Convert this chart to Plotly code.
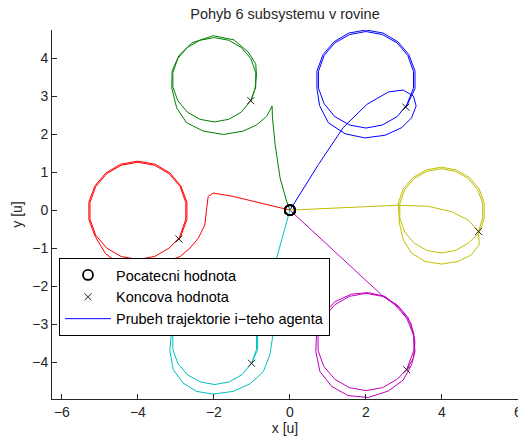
import plotly.graph_objects as go

# Trajectories of the six agents in the plane (x, y in [u]); every agent starts at the origin,
# heads out towards its place on the formation and then settles on a circular orbit.
x_blue = [0, 0.75, 1.40, 2.02, 2.59, 2.98, 3.25, 3.32, 3.20, 2.94, 2.50, 1.97, 1.45, 1.01, 0.78,
          0.71, 0.71, 0.87, 1.16, 1.55, 2.00, 2.45, 2.84, 3.13, 3.29, 3.29, 3.10,
          2.82, 2.43, 2.00, 1.57, 1.18, 0.90, 0.75, 0.75, 0.90, 1.18, 1.57, 2.00, 2.43, 2.82, 3.10,
          3.25, 3.25, 3.05]
y_blue = [0, 1.20, 2.17, 2.78, 3.11, 3.16, 3.00, 2.74, 2.43, 2.17, 1.97, 1.90, 2.01, 2.30, 2.75,
          3.20, 3.66, 4.09, 4.43, 4.66, 4.74, 4.66, 4.43, 4.09, 3.66, 3.20, 2.80,
          2.46, 2.24, 2.16, 2.24, 2.46, 2.80, 3.21, 3.65, 4.07, 4.40, 4.62, 4.70, 4.62, 4.40, 4.07,
          3.65, 3.21, 2.71]

x_green = [0, -0.09, -0.26, -0.39, -0.46, -0.47, -0.61, -0.88, -1.23, -1.75, -2.28, -2.72, -2.98, -3.11,
           -3.10, -2.92, -2.58, -2.02, -1.47, -1.10, -0.90, -0.88, -0.92, -1.03,
           -1.28, -1.61, -1.99, -2.37, -2.70, -2.95, -3.08, -3.08, -2.95, -2.70, -2.37, -1.99, -1.61,
           -1.28, -1.03, -0.90, -0.90, -1.03]
y_green = [0, 0.24, 0.85, 1.73, 2.43, 2.74, 2.47, 2.24, 2.08, 1.99, 2.08, 2.30, 2.69, 3.22,
           3.66, 4.07, 4.40, 4.59, 4.48, 4.16, 3.85, 3.55, 3.18, 2.88,
           2.58, 2.39, 2.32, 2.39, 2.58, 2.88, 3.24, 3.62, 3.99, 4.28, 4.47, 4.54, 4.47,
           4.28, 3.99, 3.62, 3.24, 2.88]

x_red = [0, -0.97, -1.49, -2.02, -2.15, -2.19, -2.24, -2.41, -2.63, -2.89, -3.40, -4.00, -4.50, -4.85,
         -5.13, -5.29, -5.29, -5.13, -4.84, -4.45, -4.00, -3.55, -3.16, -2.87, -2.71, -2.71, -2.87,
         -3.18, -3.56, -4.00, -4.44, -4.82, -5.11, -5.26, -5.26, -5.11, -4.82, -4.44, -4.00, -3.56,
         -3.18, -2.89, -2.74, -2.74, -2.92]
y_red = [0, 0.23, 0.36, 0.45, 0.36, 0.05, -0.39, -0.74, -1.00, -1.22, -1.42, -1.48, -1.40, -1.15,
         -0.68, -0.25, 0.21, 0.64, 0.98, 1.21, 1.29, 1.21, 0.98, 0.64, 0.21, -0.25, -0.68,
         -1.00, -1.22, -1.30, -1.22, -1.00, -0.66, -0.24, 0.20, 0.62, 0.96, 1.18, 1.26, 1.18,
         0.96, 0.62, 0.20, -0.24, -0.76]

x_cyan = [0, -0.35, -0.44, -0.48, -0.46, -0.53, -0.70, -1.05, -1.49, -2.02, -2.46, -2.81, -3.07, -3.16,
          -3.12, -2.98, -2.72, -2.37, -1.98, -1.59, -1.24, -0.98, -0.85, -0.85, -1.01,
          -1.26, -1.60, -1.98, -2.36, -2.70, -2.95, -3.08, -3.08, -2.95, -2.70, -2.36, -1.98, -1.60,
          -1.26, -1.01, -0.88, -0.88, -1.01]
y_cyan = [0, -1.26, -2.10, -2.89, -3.37, -3.81, -4.25, -4.57, -4.77, -4.84, -4.77, -4.55, -4.20, -3.70,
          -3.25, -2.90, -2.59, -2.39, -2.32, -2.39, -2.59, -2.90, -3.27, -3.67, -4.03,
          -4.33, -4.52, -4.59, -4.52, -4.33, -4.03, -3.67, -3.28, -2.91, -2.61, -2.42, -2.35, -2.42,
          -2.61, -2.91, -3.28, -3.67, -4.03]

x_magenta = [0, 2.41, 2.76, 3.07, 3.25, 3.29, 3.20, 2.98, 2.59, 2.06, 1.53, 1.10, 0.79, 0.68, 0.70,
             0.88, 1.18, 1.62, 2.06, 2.50, 2.89, 3.18, 3.29, 3.25, 3.07,
             2.82, 2.44, 2.00, 1.56, 1.18, 0.89, 0.74, 0.74, 0.89, 1.18, 1.56, 2.00, 2.44, 2.82,
             3.11, 3.26, 3.26, 3.07]
y_magenta = [0, -2.23, -2.49, -2.84, -3.28, -3.72, -4.07, -4.47, -4.76, -4.93, -4.88, -4.64, -4.25, -3.72,
             -3.24, -2.76, -2.41, -2.21, -2.17, -2.27, -2.58, -2.97, -3.46, -3.89, -4.20,
             -4.45, -4.67, -4.75, -4.67, -4.45, -4.11, -3.69, -3.25, -2.83, -2.49, -2.27, -2.19, -2.27,
             -2.49, -2.83, -3.25, -3.69, -4.20]

x_yellow = [0, 0.75, 1.62, 2.85, 3.64, 4.25, 4.69, 4.96, 4.98, 4.77, 4.42, 3.99, 3.55, 3.20, 2.98,
            2.88, 2.85, 2.98, 3.24, 3.59, 3.98, 4.37, 4.72, 4.98, 5.11, 5.11, 4.98,
            4.69, 4.36, 3.98, 3.60, 3.27, 3.02, 2.89, 2.89, 3.02, 3.27, 3.60, 3.98, 4.36, 4.69,
            4.94, 5.07, 5.07, 4.96]
y_yellow = [0, 0.03, 0.08, 0.13, 0.10, -0.04, -0.26, -0.56, -0.91, -1.18, -1.35, -1.42, -1.35, -1.13,
            -0.78, -0.34, 0.18, 0.56, 0.86, 1.06, 1.13, 1.06, 0.86, 0.56, 0.18, -0.22, -0.60,
            -0.87, -1.06, -1.13, -1.06, -0.87, -0.58, -0.21, 0.17, 0.54, 0.83, 1.02, 1.09, 1.02, 0.83,
            0.54, 0.17, -0.21, -0.56]

agents = [
    (x_blue, y_blue, "#0000ff"),
    (x_green, y_green, "#008000"),
    (x_red, y_red, "#ff0000"),
    (x_cyan, y_cyan, "#00bfbf"),
    (x_magenta, y_magenta, "#bf00bf"),
    (x_yellow, y_yellow, "#bfbf00"),
]

title_text = "Pohyb 6 subsystemu v rovine"
legend_start = "Pocatecni hodnota"
legend_end = "Koncova hodnota"
legend_path = "Prubeh trajektorie i\u2212teho agenta"
x_ticks = [-6, -4, -2, 0, 2, 4, 6]
y_ticks = [-4, -3, -2, -1, 0, 1, 2, 3, 4]

FONT = "Liberation Sans, Arial, Helvetica, sans-serif"

fig = go.Figure()

for i, (xs, ys, col) in enumerate(agents):
    fig.add_trace(go.Scatter(
        x=xs, y=ys, mode="lines",
        line=dict(color=col, width=1),
        name=legend_path, showlegend=(i == 0), legendrank=3,
        hoverinfo="skip",
    ))

# initial positions
fig.add_trace(go.Scatter(
    x=[a[0][0] for a in agents], y=[a[1][0] for a in agents],
    mode="markers", name=legend_start, legendrank=1,
    marker=dict(symbol="circle-open", size=10, color="black", line=dict(width=1.8, color="black")),
))
# final positions
fig.add_trace(go.Scatter(
    x=[a[0][-1] for a in agents], y=[a[1][-1] for a in agents],
    mode="markers", name=legend_end, legendrank=2,
    marker=dict(symbol="x-thin-open", size=7, color="#202020", line=dict(width=1, color="#202020")),
))

axis_common = dict(
    showgrid=False, zeroline=False, showline=True, linecolor="#262626", linewidth=1,
    ticks="inside", ticklen=5, tickcolor="#262626", tickwidth=1, mirror=False,
    ticklabeloverflow="allow", automargin=False,
    tickfont=dict(family=FONT, size=14, color="#262626"),
)

fig.update_layout(
    width=518, height=441,
    margin=dict(l=52, r=0, t=30, b=42, autoexpand=False),
    paper_bgcolor="white", plot_bgcolor="white",
    font=dict(family=FONT, size=14, color="#262626"),
    title=dict(text=title_text, x=0.5, xref="paper", y=1 - 14 / 441, yanchor="middle",
               font=dict(family=FONT, size=14.5, color="#262626")),
    xaxis=dict(range=[-6.26, 6.0], tickvals=x_ticks,
               title=dict(text="x [u]", standoff=3, font=dict(size=14)), **axis_common),
    yaxis=dict(range=[-4.97, 4.74], tickvals=y_ticks,
               title=dict(text="y [u]", standoff=6, font=dict(size=14)), **axis_common),
    legend=dict(x=0.015, y=0.382, xanchor="left", yanchor="top",
                bgcolor="white", bordercolor="black", borderwidth=1,
                font=dict(family=FONT, size=14.5, color="black"),
                tracegroupgap=0, itemwidth=46),
    showlegend=True,
)

fig.write_html("out.html")
